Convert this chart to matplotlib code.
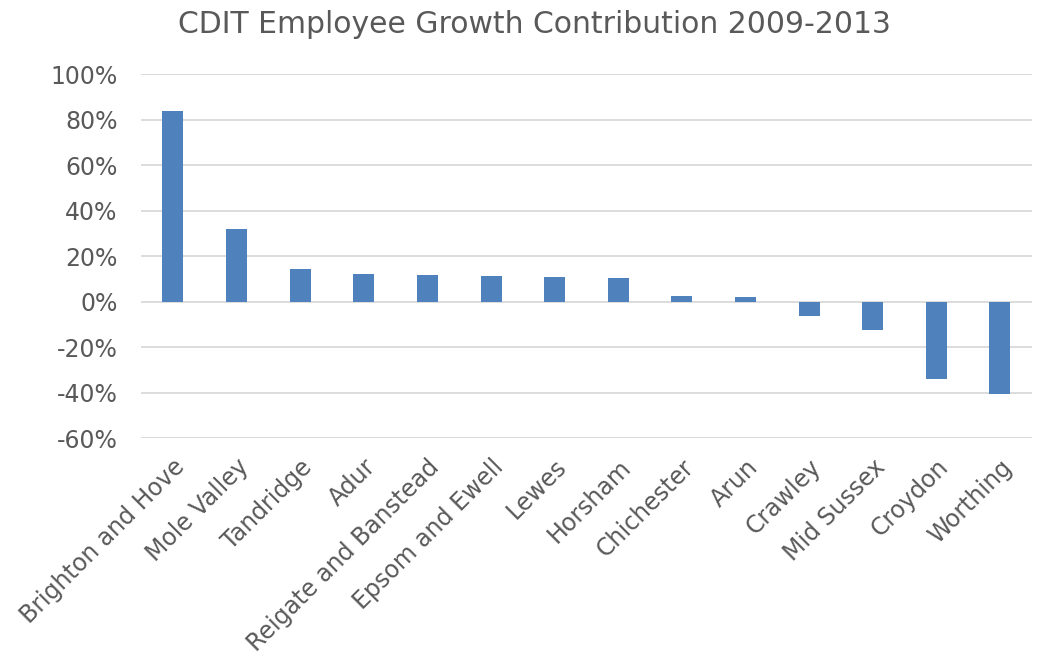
import matplotlib.pyplot as plt
from matplotlib.ticker import PercentFormatter

districts = ['Brighton and Hove', 'Mole Valley', 'Tandridge', 'Adur',
             'Reigate and Banstead', 'Epsom and Ewell', 'Lewes', 'Horsham',
             'Chichester', 'Arun', 'Crawley', 'Mid Sussex', 'Croydon', 'Worthing']
growth_pct = [84.0, 31.8, 14.3, 12.1, 11.8, 11.1, 10.8, 10.5,
              2.4, 1.9, -6.3, -12.4, -33.8, -40.4]

text_grey = '#595959'
plt.rcParams['axes.unicode_minus'] = False

fig = plt.figure(figsize=(10.38, 6.56), dpi=100)
ax = fig.add_axes([0.136, 0.332, 0.858, 0.555])

x = range(len(districts))
ax.bar(x, growth_pct, width=0.33, color='#4F81BD', zorder=3)

ax.set_ylim(-60, 100)
ax.set_yticks(range(-60, 101, 20))
ax.yaxis.set_major_formatter(PercentFormatter(decimals=0))
ax.set_xlim(-0.5, len(districts) - 0.5)
ax.set_xticks(list(x))
ax.set_xticklabels(districts, rotation=45, ha='right', rotation_mode='anchor')

ax.grid(axis='y', color='#D9D9D9', linewidth=1.3, zorder=0)
for side in ax.spines.values():
    side.set_visible(False)
ax.tick_params(axis='both', length=0, colors=text_grey, labelsize=17)
ax.tick_params(axis='y', pad=17)
ax.tick_params(axis='x', pad=12)

fig.suptitle('CDIT Employee Growth Contribution 2009-2013', x=0.515, y=0.984,
             fontsize=21.5, color=text_grey)

fig.savefig('out.png')
